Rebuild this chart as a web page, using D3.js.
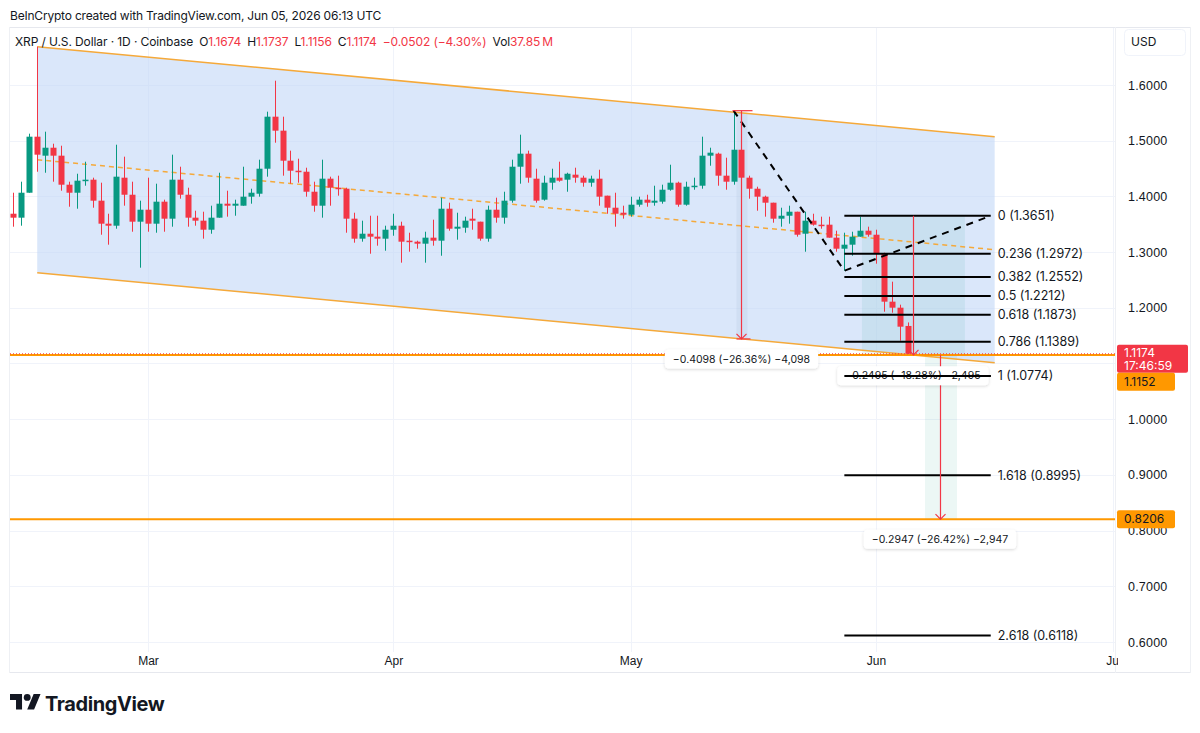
<!DOCTYPE html>
<html>
<head>
<meta charset="utf-8">
<title>XRP / U.S. Dollar 1D</title>
<script src="https://cdn.jsdelivr.net/npm/d3@7"></script>
<style>
  body { margin: 0; background: #fff; }
  svg { display: block; font-family: Inter, "Noto Sans", "Liberation Sans", sans-serif; }
</style>
</head>
<body>
<svg id="chart" width="1200" height="733"></svg>
<script>
// daily candles, first one on Feb 12 2026
var firstDay = "2026-02-12";
var opens = [1.3689,1.3618,1.4066,1.5072,1.4731,1.4874,1.4731,1.4210,1.4066,1.4282,
  1.4300,1.3923,1.3510,1.3474,1.4336,1.4030,1.3546,1.3761,1.3510,1.3905,
  1.3600,1.4300,1.4030,1.3618,1.3564,1.3402,1.3618,1.3869,1.3833,1.3833,
  1.3995,1.4048,1.4497,1.5431,1.5180,1.4641,1.4461,1.4443,1.4084,1.3833,
  1.4318,1.4156,1.4138,1.3600,1.3241,1.3330,1.3277,1.3241,1.3402,1.3474,
  1.3205,1.3187,1.3151,1.3259,1.3205,1.3779,1.3420,1.3438,1.3600,1.3546,
  1.3241,1.3761,1.3618,1.3923,1.4533,1.4767,1.4318,1.3941,1.4246,1.4336,
  1.4300,1.4390,1.4336,1.4246,1.4318,1.4013,1.3797,1.3707,1.3671,1.3851,
  1.3941,1.3887,1.3905,1.4120,1.4246,1.3851,1.4174,1.4192,1.4731,1.4767,
  1.4372,1.4264,1.4838,1.4336,1.4138,1.3995,1.3887,1.3600,1.3653,1.3725,
  1.3330,1.3564,1.3492,1.3492,1.3259,1.3061,1.3133,1.3277,1.3384,1.3312,
  1.2971,1.2110,1.2002,1.1674];
var highs = [1.4066,1.4264,1.5126,1.6688,1.5162,1.4946,1.4910,1.4264,1.4407,1.4623,
  1.4336,1.4246,1.3689,1.4928,1.4713,1.4264,1.3923,1.4336,1.4228,1.3941,
  1.4749,1.4533,1.4156,1.3743,1.3725,1.3833,1.4425,1.4102,1.3941,1.4533,
  1.4138,1.4659,1.5521,1.6077,1.5431,1.4821,1.4677,1.4515,1.4264,1.4659,
  1.4354,1.4372,1.4156,1.3707,1.3564,1.3653,1.3653,1.3474,1.3689,1.3546,
  1.3348,1.3205,1.3366,1.3582,1.3977,1.3887,1.3707,1.3636,1.3779,1.3546,
  1.3833,1.3977,1.4084,1.4659,1.5108,1.4821,1.4497,1.4372,1.4497,1.4623,
  1.4425,1.4515,1.4372,1.4372,1.4479,1.4013,1.4066,1.3833,1.3995,1.3995,
  1.4030,1.4192,1.4210,1.4569,1.4264,1.4264,1.4336,1.5072,1.4874,1.4785,
  1.4695,1.5539,1.4838,1.4372,1.4174,1.4013,1.3887,1.3797,1.3833,1.3725,
  1.3725,1.3689,1.3636,1.3636,1.3384,1.3348,1.3366,1.3636,1.3456,1.3402,
  1.2989,1.2469,1.2056,1.1737];
var lows = [1.3456,1.3474,1.4066,1.4443,1.4425,1.4264,1.4102,1.3815,1.3779,1.4192,
  1.3797,1.3312,1.3133,1.3420,1.3833,1.3366,1.2720,1.3366,1.3348,1.3366,
  1.3456,1.3959,1.3456,1.3474,1.3241,1.3330,1.3618,1.3636,1.3653,1.3833,
  1.3869,1.3995,1.4354,1.4964,1.4372,1.4228,1.4246,1.3995,1.3725,1.3618,
  1.3833,1.4013,1.3348,1.3169,1.3187,1.2971,1.3115,1.3025,1.3294,1.2810,
  1.3007,1.3061,1.2810,1.3115,1.2935,1.3384,1.3223,1.3348,1.3402,1.3205,
  1.3187,1.3528,1.3510,1.3887,1.4228,1.4246,1.3887,1.3923,1.4120,1.4264,
  1.4084,1.4246,1.4174,1.4174,1.3833,1.3689,1.3456,1.3600,1.3636,1.3815,
  1.3815,1.3833,1.3869,1.4102,1.3815,1.3833,1.4120,1.4138,1.4551,1.4192,
  1.4120,1.4210,1.4300,1.3959,1.3743,1.3636,1.3528,1.3456,1.3510,1.3277,
  1.3007,1.3474,1.3420,1.3259,1.3007,1.2666,1.2935,1.3277,1.3277,1.2792,
  1.1930,1.1912,1.1410,1.1156];
var closes = [1.3618,1.4066,1.5072,1.4749,1.4874,1.4731,1.4210,1.4066,1.4282,1.4300,
  1.3923,1.3510,1.3474,1.4354,1.4030,1.3546,1.3761,1.3510,1.3905,1.3600,
  1.4300,1.4030,1.3618,1.3564,1.3402,1.3618,1.3869,1.3833,1.3869,1.3995,
  1.4066,1.4497,1.5431,1.5180,1.4641,1.4461,1.4443,1.4084,1.3833,1.4318,
  1.4156,1.4138,1.3600,1.3241,1.3330,1.3277,1.3241,1.3402,1.3474,1.3187,
  1.3187,1.3151,1.3259,1.3205,1.3779,1.3420,1.3456,1.3564,1.3564,1.3241,
  1.3761,1.3618,1.3923,1.4533,1.4767,1.4336,1.3923,1.4246,1.4336,1.4282,
  1.4407,1.4336,1.4246,1.4318,1.3995,1.3797,1.3689,1.3671,1.3851,1.3941,
  1.3887,1.3923,1.4120,1.4246,1.3851,1.4174,1.4192,1.4731,1.4785,1.4372,
  1.4264,1.4838,1.4336,1.4138,1.3995,1.3887,1.3600,1.3653,1.3725,1.3312,
  1.3564,1.3492,1.3474,1.3259,1.3061,1.3133,1.3277,1.3384,1.3312,1.2971,
  1.2110,1.2002,1.1661,1.1174];

// descending channel
var channelDates = ["2026-02-15", "2026-06-16"];
var channelUpper = [1.6688, 1.5072];
var channelLower = [1.2630, 1.1014];

// trend based fib extension
var trendDates = ["2026-05-14", "2026-05-28", "2026-06-15T12:00Z"];
var trendPrices = [1.5539, 1.2666, 1.3651];
var fibLevels = ["0", "0.236", "0.382", "0.5", "0.618", "0.786", "1", "1.618", "2.618"];
var fibPrices = [1.3651, 1.2972, 1.2552, 1.2212, 1.1873, 1.1389, 1.0774, 0.8995, 0.6118];

// price range measurements
var measureDates = ["2026-05-15", "2026-06-05T16:00Z", "2026-06-09T02:00Z"];
var measureFrom = [1.5539, 1.3651, 1.1152];
var measureTo = [1.1441, 1.1156, 0.8205];
var measureText = ["\u22120.4098 (\u221226.36%) \u22124,098", "\u22120.2495 (\u221218.28%) \u22122,495", "\u22120.2947 (\u221226.42%) \u22122,947"];

var priceTicks = [0.6, 0.7, 0.8, 0.9, 1.0, 1.1, 1.2, 1.3, 1.4, 1.5, 1.6];
var monthTicks = ["2026-03-01", "2026-04-01", "2026-05-01", "2026-06-01", "2026-07-01"];
var levelPrices = [1.1152, 0.8206];
var lastPrice = 1.1174;
var countdown = "17:46:59";

var green = "#089981", red = "#f23645", orange = "#ff9800", chan = "#f5a93a";
var ink = "#131722";

var parse = function(s) { return d3.isoParse(s.length == 10 ? s + "T00:00:00Z" : s); };
var day0 = parse(firstDay);
var candles = opens.map(function(o, i) {
  return { date: d3.utcDay.offset(day0, i), o: o, h: highs[i], l: lows[i], c: closes[i] };
});

var svg = d3.select("#chart");
var x = d3.scaleUtc().domain([parse("2026-03-01"), parse("2026-06-01")]).range([148, 876]);
var y = d3.scaleLinear().domain([0.6, 1.6]).range([642, 85]);

var L = 10, R = 1115, T = 28, B = 652;

var defs = svg.append("defs");
defs.append("clipPath").attr("id", "plot")
  .append("rect").attr("x", L).attr("y", T).attr("width", R - L).attr("height", B - T);
var shadow = defs.append("filter").attr("id", "sh")
  .attr("x", "-20%").attr("y", "-50%").attr("width", "140%").attr("height", "200%");
shadow.append("feDropShadow").attr("dx", 0).attr("dy", 1).attr("stdDeviation", 1.5)
  .attr("flood-color", "#000").attr("flood-opacity", 0.16);
defs.append("clipPath").attr("id", "taxis")
  .append("rect").attr("x", 0).attr("y", 0).attr("width", 1118).attr("height", 30);

// header
svg.append("text").attr("x", 10).attr("y", 20).attr("font-size", 12).attr("letter-spacing", -0.2).attr("fill", ink)
  .text("BeInCrypto created with TradingView.com, Jun 05, 2026 06:13 UTC");

// frame
svg.append("line").attr("x1", 10).attr("x2", 1190).attr("y1", 27.5).attr("y2", 27.5).attr("stroke", "#e6e8ee");
svg.append("line").attr("x1", 10).attr("x2", 1190).attr("y1", 672.5).attr("y2", 672.5).attr("stroke", "#e6e8ee");
svg.append("line").attr("x1", 9.5).attr("x2", 9.5).attr("y1", 27).attr("y2", 673).attr("stroke", "#eef0f4");
svg.append("line").attr("x1", R + 0.5).attr("x2", R + 0.5).attr("y1", 27).attr("y2", 673).attr("stroke", "#eef0f4");
svg.append("line").attr("x1", 1190.5).attr("x2", 1190.5).attr("y1", 27).attr("y2", 673).attr("stroke", "#eef0f4");

var plot = svg.append("g").attr("clip-path", "url(#plot)");

// grid
plot.append("g").selectAll("line").data(priceTicks).enter().append("line")
  .attr("x1", L).attr("x2", R).attr("y1", function(d) { return Math.round(y(d)) + 0.5; })
  .attr("y2", function(d) { return Math.round(y(d)) + 0.5; }).attr("stroke", "#f0f3fa");
plot.append("g").selectAll("line").data(monthTicks).enter().append("line")
  .attr("y1", T).attr("y2", B).attr("x1", function(d) { return Math.round(x(parse(d))) + 0.5; })
  .attr("x2", function(d) { return Math.round(x(parse(d))) + 0.5; }).attr("stroke", "#f0f3fa");

// channel
var cx0 = x(parse(channelDates[0])), cx1 = x(parse(channelDates[1]));
plot.append("path")
  .attr("d", "M" + cx0 + "," + y(channelUpper[0]) + "L" + cx1 + "," + y(channelUpper[1]) +
    "L" + cx1 + "," + y(channelLower[1]) + "L" + cx0 + "," + y(channelLower[0]) + "Z")
  .attr("fill", "#c0d6f7").attr("fill-opacity", 0.58);

// shaded ranges of the measurements
var m1x = x(parse(measureDates[0])), m2x = x(parse(measureDates[1])), m3x = x(parse(measureDates[2]));
plot.append("rect").attr("x", m1x - 5).attr("width", 11).attr("y", y(measureFrom[0])).attr("height", y(measureTo[0]) - y(measureFrom[0]))
  .attr("fill", "rgba(90,130,150,0.07)");
plot.append("rect").attr("x", m2x - 51).attr("width", 103).attr("y", y(measureFrom[1])).attr("height", y(measureTo[1]) - y(measureFrom[1]))
  .attr("fill", "rgba(8,153,129,0.08)");
plot.append("rect").attr("x", m3x - 15).attr("width", 32).attr("y", y(measureFrom[2])).attr("height", y(measureTo[2]) - y(measureFrom[2]))
  .attr("fill", "rgba(8,153,129,0.08)");

plot.append("line").attr("x1", cx0).attr("y1", y(channelUpper[0])).attr("x2", cx1).attr("y2", y(channelUpper[1]))
  .attr("stroke", chan).attr("stroke-width", 1.5);
plot.append("line").attr("x1", cx0).attr("y1", y(channelLower[0])).attr("x2", cx1).attr("y2", y(channelLower[1]))
  .attr("stroke", chan).attr("stroke-width", 1.5);
plot.append("line").attr("x1", cx0).attr("y1", y((channelUpper[0] + channelLower[0]) / 2))
  .attr("x2", cx1).attr("y2", y((channelUpper[1] + channelLower[1]) / 2))
  .attr("stroke", chan).attr("stroke-width", 1.5).attr("stroke-dasharray", "5,4");

// candles
var cg = plot.append("g");
cg.selectAll("line").data(candles).enter().append("line")
  .attr("x1", function(d) { return Math.round(x(d.date)) + 0.5; })
  .attr("x2", function(d) { return Math.round(x(d.date)) + 0.5; })
  .attr("y1", function(d) { return y(d.h); }).attr("y2", function(d) { return y(d.l); })
  .attr("stroke", function(d) { return d.c >= d.o ? green : red; }).attr("stroke-width", 1);
cg.selectAll("rect").data(candles).enter().append("rect")
  .attr("x", function(d) { return Math.round(x(d.date)) - 2.5; }).attr("width", 6)
  .attr("y", function(d) { return y(Math.max(d.o, d.c)); })
  .attr("height", function(d) { return Math.max(1.5, Math.abs(y(d.o) - y(d.c))); })
  .attr("fill", function(d) { return d.c >= d.o ? green : red; });

// trend lines (dashed black)
var trendLine = d3.line().x(function(d, i) { return x(parse(trendDates[i])); }).y(function(d) { return y(d); });
plot.append("path").attr("d", trendLine(trendPrices)).attr("fill", "none")
  .attr("stroke", "#000").attr("stroke-width", 2).attr("stroke-dasharray", "7,6");

// fib levels
var fx0 = x(parse(trendDates[1])), fx1 = x(parse(trendDates[2]));
plot.append("g").selectAll("line").data(fibPrices).enter().append("line")
  .attr("x1", fx0).attr("x2", fx1).attr("y1", function(d) { return y(d); }).attr("y2", function(d) { return y(d); })
  .attr("stroke", "#000").attr("stroke-width", 2);

// horizontal levels and last price
plot.append("g").selectAll("line").data(levelPrices).enter().append("line")
  .attr("x1", L).attr("x2", R).attr("y1", function(d) { return y(d); }).attr("y2", function(d) { return y(d); })
  .attr("stroke", orange).attr("stroke-width", 2);
plot.append("line").attr("x1", L).attr("x2", R).attr("y1", y(lastPrice)).attr("y2", y(lastPrice))
  .attr("stroke", red).attr("stroke-width", 1).attr("stroke-dasharray", "1,2");

// measurement arrows
measureDates.forEach(function(dt, i) {
  var mx = Math.round(x(parse(dt))) + 0.5, y0 = y(measureFrom[i]), y1 = y(measureTo[i]);
  var g = plot.append("g");
  g.append("line").attr("x1", mx).attr("x2", mx).attr("y1", y0).attr("y2", y1)
    .attr("stroke", red).attr("stroke-width", 1.2);
  g.append("path").attr("d", "M" + (mx - 5) + "," + (y1 - 5) + "L" + mx + "," + y1 + "L" + (mx + 5) + "," + (y1 - 5))
    .attr("stroke", red).attr("fill", "none").attr("stroke-width", 1.2);
  if (i == 0) {
    g.append("line").attr("x1", mx - 9).attr("x2", mx + 11).attr("y1", y0).attr("y2", y0).attr("stroke", red).attr("stroke-width", 1.2);
    g.append("line").attr("x1", mx - 5).attr("x2", mx + 9).attr("y1", y1).attr("y2", y1).attr("stroke", red).attr("stroke-width", 1.2);
  }
});

// fib labels
plot.append("g").selectAll("text").data(fibPrices).enter().append("text")
  .attr("x", fx1 + 7).attr("y", function(d) { return y(d); }).attr("dy", "0.35em")
  .attr("font-size", 12.5).attr("fill", ink)
  .text(function(d, i) { return fibLevels[i] + " (" + d.toFixed(4) + ")"; });

// measurement label boxes
var labelOffsets = [20, 21, 20];
measureDates.forEach(function(dt, i) {
  var mx = x(parse(dt)), ly = y(measureTo[i]) + labelOffsets[i];
  var g = svg.append("g");
  var bg = g.append("rect").attr("fill", "#fff").attr("rx", 4).attr("filter", "url(#sh)");
  var t = g.append("text").attr("x", mx).attr("y", ly).attr("dy", "0.35em").attr("text-anchor", "middle")
    .attr("font-size", 10.5).attr("fill", ink).text(measureText[i]);
  var w = t.node().getComputedTextLength() + 16;
  bg.attr("x", mx - w / 2).attr("y", ly - 9.5).attr("width", w).attr("height", 19);
  if (i == 1) {
    g.append("line").attr("x1", fx0).attr("x2", fx1).attr("y1", y(fibPrices[6])).attr("y2", y(fibPrices[6]))
      .attr("stroke", "#000").attr("stroke-width", 2);
  }
});

// price axis (1.1000 sits under the last price tag)
var yAxis = d3.axisRight(y).tickValues(priceTicks.filter(function(p) { return p != 1.1; }))
  .tickSize(0).tickPadding(13).tickFormat(d3.format(".4f"));
var ya = svg.append("g").attr("transform", "translate(" + R + ",0)").call(yAxis);
ya.select(".domain").remove();
ya.selectAll("text").attr("font-size", 12.5).attr("letter-spacing", 0.2).attr("fill", ink).attr("font-family", null);

// time axis
var xAxis = d3.axisBottom(x).tickValues(monthTicks.map(parse)).tickSize(0).tickPadding(5).tickFormat(d3.utcFormat("%b"));
var xa = svg.append("g").attr("transform", "translate(0," + (B - 1) + ")").attr("clip-path", "url(#taxis)").call(xAxis);
xa.select(".domain").remove();
xa.selectAll("text").attr("font-size", 12).attr("font-weight", 500).attr("fill", ink).attr("font-family", null);

// USD box
svg.append("rect").attr("x", 1124.5).attr("y", 29.5).attr("width", 61).attr("height", 26).attr("rx", 4)
  .attr("fill", "#fff").attr("stroke", "#f0f3fa");
svg.append("text").attr("x", 1131).attr("y", 42).attr("dy", "0.35em").attr("font-size", 12).attr("fill", ink).text("USD");

// price tags
var ly0 = y(lastPrice);
svg.append("rect").attr("x", R + 2).attr("y", ly0 - 9).attr("width", 71).attr("height", 28).attr("rx", 2).attr("fill", red);
svg.append("text").attr("x", R + 9).attr("y", ly0 - 1).attr("dy", "0.35em").attr("font-size", 12).attr("fill", "#fff").text(lastPrice.toFixed(4));
svg.append("text").attr("x", R + 9).attr("y", ly0 + 12).attr("dy", "0.35em").attr("font-size", 12).attr("fill", "#fff").text(countdown);
levelPrices.forEach(function(p, i) {
  var py = i == 0 ? ly0 + 28 : y(p);
  svg.append("rect").attr("x", R + 2).attr("y", py - 9).attr("width", 58).attr("height", 18).attr("rx", 2).attr("fill", orange);
  svg.append("text").attr("x", R + 9).attr("y", py).attr("dy", "0.35em").attr("font-size", 12).attr("fill", ink).text(p.toFixed(4));
});

// legend
var leg = svg.append("text").attr("x", 15).attr("y", 42).attr("dy", "0.35em").attr("font-size", 12)
  .attr("letter-spacing", -0.1).attr("fill", ink);
leg.append("tspan").text("XRP / U.S. Dollar \u00b7 1D \u00b7 Coinbase");
var last = candles[candles.length - 1];
[["O", last.o], ["H", last.h], ["L", last.l], ["C", last.c]].forEach(function(p) {
  leg.append("tspan").attr("dx", 6).text(p[0]);
  leg.append("tspan").attr("fill", red).text(p[1].toFixed(4));
});
leg.append("tspan").attr("dx", 6).attr("fill", red).text("\u22120.0502 (\u22124.30%)");
leg.append("tspan").attr("dx", 6).text("Vol");
leg.append("tspan").attr("fill", red).text("37.85\u2009M");

// TradingView logo
var logo = svg.append("g").attr("transform", "translate(10,690.5) scale(0.86)").attr("fill", ink);
logo.append("path").attr("d", "M14 22H7V11H0V4h14v18zM28 22h-8l7.5-18h8L28 22z");
logo.append("circle").attr("cx", 20).attr("cy", 8).attr("r", 4);
svg.append("text").attr("x", 45).attr("y", 711).attr("font-size", 20).attr("font-weight", 700)
  .attr("letter-spacing", -0.4).attr("fill", ink).text("TradingView");
</script>
</body>
</html>
